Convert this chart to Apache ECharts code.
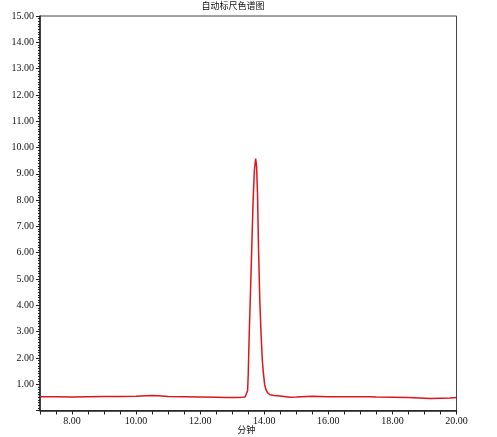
<!DOCTYPE html>
<html>
<head>
<meta charset="utf-8">
<script src="https://cdn.jsdelivr.net/npm/echarts@6/dist/echarts.min.js"></script>
<style>html,body{margin:0;padding:0;background:#fff}#c{width:497px;height:437px}</style>
</head>
<body>
<div id="c"></div>
<script>
const titleText = '自动标尺色谱图';
const xName = '分钟';
const yName = 'EU';
const times = [7.0,7.5,8.0,8.5,9.0,9.5,10.0,10.3,10.5,10.7,11.0,11.5,12.0,12.5,12.8,13.1,13.3,13.40,13.45,13.48,13.50,13.53,13.57,13.61,13.65,13.69,13.73,13.76,13.79,13.82,13.86,13.90,13.94,13.97,14.01,14.05,14.10,14.18,14.30,14.5,14.8,15.0,15.5,16.0,16.5,17.0,17.3,17.5,18.0,18.5,19.0,19.2,19.5,19.8,20.0];
const values = [0.52,0.52,0.51,0.52,0.53,0.53,0.54,0.56,0.57,0.56,0.53,0.52,0.51,0.50,0.49,0.49,0.50,0.51,0.53,0.75,1.4,2.9,4.5,6.2,7.9,9.1,9.58,9.3,8.2,6.2,4.2,2.9,1.9,1.45,1.0,0.8,0.68,0.6,0.57,0.55,0.50,0.51,0.54,0.52,0.52,0.52,0.52,0.51,0.50,0.49,0.47,0.46,0.47,0.48,0.49];
const xMin = 7, xMax = 20, xStep = 0.5, xLabelEvery = 2;
const yMin = 0, yMax = 15, yStep = 1;

const font = "'Liberation Serif','Noto Sans CJK SC',serif";
const chart = echarts.init(document.getElementById('c'));
chart.setOption({
  animation: false,
  title: {
    text: titleText, left: 233, top: 1, textAlign: 'center', padding: 0,
    textStyle: {fontSize: 9, fontWeight: 'normal', color: '#111', fontFamily: "'Noto Sans CJK SC',sans-serif"}
  },
  grid: {left: 40, top: 16, right: 40.5, bottom: 26.5, containLabel: false, outerBoundsMode: 'none', show: true, borderColor: '#444', borderWidth: 1, backgroundColor: '#fff'},
  xAxis: {
    type: 'value', min: xMin, max: xMax, interval: xStep,
    name: xName, nameLocation: 'middle', nameGap: 15, nameMoveOverlap: false,
    nameTextStyle: {fontSize: 9, color: '#111', fontFamily: "'Noto Sans CJK SC',sans-serif", padding:[0,4,0,0]},
    axisLine: {lineStyle: {color: '#222', width: 1.5}},
    axisTick: {length: 4, lineStyle: {color: '#222', width: 1}},
    splitLine: {show: false},
    axisLabel: {
      fontSize: 10, color: '#111', fontFamily: font, margin: 6,
      formatter: v => (Math.abs(v % xLabelEvery) < 1e-9 ? v.toFixed(2) : '')
    }
  },
  yAxis: {
    type: 'value', min: yMin, max: yMax, interval: yStep,
    name: yName, nameLocation: 'middle', nameGap: 30, nameRotate: 90,
    nameTextStyle: {fontSize: 9, color: '#111', fontFamily: font},
    axisLine: {show: true, lineStyle: {color: '#222', width: 1.5}},
    axisTick: {length: 4, lineStyle: {color: '#222', width: 1}},
    minorTick: {show: true, splitNumber: 10, length: 2, lineStyle: {color: '#222', width: 1}},
    splitLine: {show: false},
    axisLabel: {
      fontSize: 10, color: '#111', fontFamily: font, margin: 6,
      formatter: v => (v === 0 ? '' : v.toFixed(2))
    }
  },
  series: [{
    type: 'line', showSymbol: false, symbol: 'none',
    data: times.map((t, i) => [t, values[i]]),
    lineStyle: {color: '#e0141c', width: 1.5},
    clip: true
  }]
});
</script>
</body>
</html>
